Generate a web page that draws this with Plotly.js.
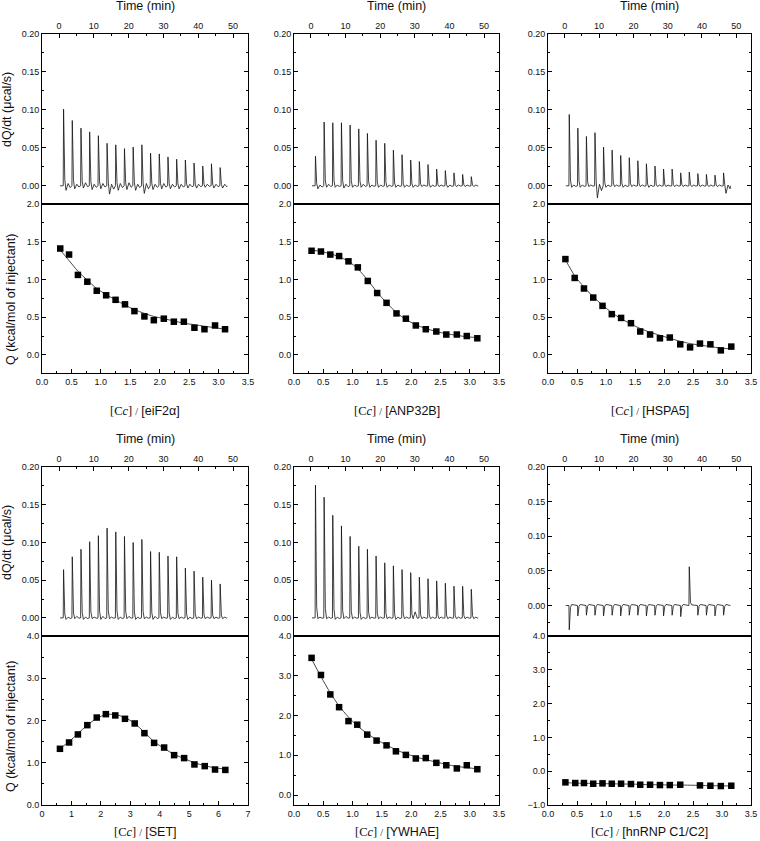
<!DOCTYPE html>
<html>
<head>
<meta charset="utf-8">
<script src="https://cdn.plot.ly/plotly-3.0.1.min.js"></script>
<style>html,body{margin:0;padding:0;background:#fff;}</style>
</head>
<body>
<div id="chart" style="width:760px;height:841px;"></div>
<script>
// ---------------- DATA ----------------
const panelNames = ['eiF2α', 'ANP32B', 'HSPA5', 'SET', 'YWHAE', 'hnRNP C1/C2'];

// injection times (min) of the raw thermograms
const injTimes = [1.2, 3.7, 6.2, 8.7, 11.2, 13.7, 16.2, 18.7, 21.2, 23.7, 26.2, 28.7, 31.2, 33.7, 36.2, 38.7, 41.2, 43.7, 46.2];
const runStart = 0.3, runEnd = 48.3;

// raw peak heights (µcal/s)
const peakEiF2a  = [0.101, 0.086, 0.076, 0.071, 0.066, 0.056, 0.054, 0.049, 0.051, 0.054, 0.043, 0.042, 0.038, 0.035, 0.034, 0.030, 0.026, 0.029, 0.024];
const peakANP32B = [0.039, 0.084, 0.083, 0.083, 0.080, 0.075, 0.069, 0.060, 0.056, 0.047, 0.041, 0.034, 0.032, 0.028, 0.022, 0.020, 0.017, 0.015, 0.012];
const peakHSPA5  = [0.094, 0.076, 0.065, 0.070, 0.051, 0.047, 0.040, 0.037, 0.033, 0.029, 0.026, 0.022, 0.022, 0.017, 0.018, 0.016, 0.015, 0.014, 0.017];
const peakSET    = [0.064, 0.081, 0.091, 0.101, 0.109, 0.119, 0.114, 0.108, 0.100, 0.104, 0.088, 0.087, 0.082, 0.081, 0.066, 0.062, 0.054, 0.050, 0.045];
const peakYWHAE  = [0.176, 0.160, 0.136, 0.122, 0.108, 0.095, 0.091, 0.082, 0.073, 0.069, 0.064, 0.060, 0.054, 0.052, 0.049, 0.046, 0.042, 0.042, 0.038];
const peakHNRNP  = [-0.035, -0.015, -0.014, -0.014, -0.015, -0.014, -0.015, -0.014, -0.014, -0.015, -0.014, -0.015, -0.014, -0.016, 0.056, -0.014, -0.014, -0.015, -0.014];

// baseline just after each peak, and mid-interval baseline (µcal/s)
const afterEiF2a  = [-0.006, -0.004, -0.003, -0.005, -0.004, -0.011, -0.006, -0.005, -0.006, -0.010, -0.005, -0.004, -0.004, -0.004, -0.003, -0.003, -0.002, -0.003, -0.003];
const midEiF2a    = [0.003, 0.002, 0.004, 0.002, 0.003, 0.002, 0.003, 0.004, 0.002, 0.003, 0.002, 0.003, 0.002, 0.002, 0.002, 0.002, 0.002, 0.002, 0.002];
const afterANP32B = [-0.004, -0.002, -0.002, -0.003, -0.002, -0.002, -0.002, -0.002, -0.002, -0.002, -0.002, -0.002, -0.001, -0.002, -0.001, -0.002, -0.001, -0.001, -0.001];
const midANP32B   = [0.001, 0.002, 0.001, 0.002, 0.001, 0.002, 0.001, 0.001, 0.001, 0.001, 0.001, 0.001, 0.001, 0.001, 0.001, 0.001, 0.001, 0.001, 0.001];
const afterHSPA5  = [-0.002, -0.002, -0.001, -0.016, -0.002, -0.001, -0.002, -0.001, -0.001, -0.002, -0.001, -0.001, -0.001, -0.001, -0.001, -0.001, -0.001, -0.001, -0.010];
const midHSPA5    = [0.001, 0.001, 0.001, 0.002, 0.001, 0.001, 0.001, 0.001, 0.001, 0.001, 0.001, 0.001, 0.001, 0.001, 0.001, 0.001, 0.001, 0.001, 0.001];
const afterSET    = [-0.002, -0.001, -0.002, -0.001, -0.002, -0.001, -0.002, -0.001, -0.002, -0.001, -0.002, -0.001, -0.002, -0.001, -0.002, -0.001, -0.001, -0.001, -0.001];
const midSET      = [0.001, 0.002, 0.001, 0.001, 0.002, 0.001, 0.001, 0.002, 0.001, 0.001, 0.002, 0.001, 0.001, 0.001, 0.001, 0.001, 0.001, 0.001, 0.001];
const afterYWHAE  = [-0.001, -0.001, -0.002, -0.001, -0.001, -0.002, -0.001, -0.001, -0.001, -0.002, -0.001, -0.001, -0.001, -0.001, -0.001, -0.001, -0.001, -0.001, -0.001];
const midYWHAE    = [0.001, 0.001, 0.001, 0.002, 0.001, 0.001, 0.001, 0.001, 0.001, 0.001, 0.001, 0.008, 0.001, 0.001, 0.001, 0.001, 0.001, 0.001, 0.001];
const afterHNRNP  = [0.0015, 0.0015, 0.0015, 0.0015, 0.0015, 0.0015, 0.0015, 0.0015, 0.0015, 0.0015, 0.0015, 0.0015, 0.0015, 0.0015, 0.001, 0.0015, 0.0015, 0.0015, 0.0015];
const midHNRNP    = [0.001, 0.001, 0.001, 0.001, 0.001, 0.001, 0.001, 0.001, 0.001, 0.001, 0.001, 0.001, 0.001, 0.001, 0.001, 0.001, 0.001, 0.001, 0.001];

// integrated heats: molar ratio, Q (kcal/mol of injectant), fitted Q
const ratioEiF2a = [0.31, 0.46, 0.61, 0.77, 0.93, 1.09, 1.25, 1.41, 1.57, 1.74, 1.90, 2.07, 2.24, 2.41, 2.59, 2.76, 2.94, 3.11];
const qEiF2a     = [1.41, 1.33, 1.06, 0.97, 0.85, 0.79, 0.73, 0.67, 0.58, 0.51, 0.46, 0.48, 0.44, 0.44, 0.36, 0.34, 0.39, 0.34];
const fitEiF2a   = [1.39, 1.25, 1.11, 0.99, 0.88, 0.80, 0.73, 0.66, 0.60, 0.55, 0.51, 0.48, 0.45, 0.42, 0.40, 0.38, 0.36, 0.34];

const ratioANP32B = [0.30, 0.46, 0.62, 0.77, 0.93, 1.09, 1.26, 1.42, 1.58, 1.75, 1.91, 2.08, 2.25, 2.43, 2.60, 2.78, 2.95, 3.13];
const qANP32B     = [1.38, 1.37, 1.33, 1.31, 1.24, 1.16, 0.98, 0.82, 0.69, 0.55, 0.48, 0.39, 0.34, 0.31, 0.27, 0.27, 0.25, 0.22];
const fitANP32B   = [1.39, 1.37, 1.34, 1.30, 1.24, 1.14, 0.99, 0.83, 0.69, 0.56, 0.47, 0.40, 0.35, 0.31, 0.28, 0.26, 0.24, 0.23];

const ratioHSPA5 = [0.30, 0.46, 0.62, 0.78, 0.94, 1.10, 1.26, 1.43, 1.59, 1.76, 1.93, 2.10, 2.28, 2.45, 2.62, 2.80, 2.98, 3.16];
const qHSPA5     = [1.27, 1.02, 0.88, 0.76, 0.65, 0.54, 0.49, 0.42, 0.31, 0.27, 0.22, 0.23, 0.14, 0.10, 0.15, 0.14, 0.06, 0.11];
const fitHSPA5   = [1.26, 1.05, 0.90, 0.77, 0.66, 0.56, 0.48, 0.41, 0.35, 0.30, 0.26, 0.22, 0.18, 0.15, 0.13, 0.11, 0.09, 0.08];

const ratioSET = [0.61, 0.92, 1.22, 1.54, 1.86, 2.17, 2.49, 2.82, 3.15, 3.48, 3.81, 4.15, 4.49, 4.83, 5.18, 5.53, 5.88, 6.23];
const qSET     = [1.33, 1.48, 1.67, 1.89, 2.07, 2.15, 2.12, 2.04, 1.93, 1.70, 1.47, 1.36, 1.18, 1.11, 0.96, 0.92, 0.84, 0.83];
const fitSET   = [1.34, 1.50, 1.69, 1.89, 2.05, 2.14, 2.14, 2.07, 1.93, 1.72, 1.50, 1.34, 1.20, 1.10, 1.00, 0.93, 0.88, 0.85];

const ratioYWHAE = [0.30, 0.46, 0.62, 0.77, 0.93, 1.08, 1.25, 1.41, 1.58, 1.74, 1.91, 2.08, 2.25, 2.43, 2.60, 2.78, 2.95, 3.13];
const qYWHAE     = [3.45, 3.02, 2.53, 2.21, 1.86, 1.77, 1.52, 1.37, 1.25, 1.10, 1.01, 0.92, 0.93, 0.81, 0.75, 0.67, 0.75, 0.65];
const fitYWHAE   = [3.42, 2.98, 2.57, 2.24, 1.96, 1.74, 1.55, 1.39, 1.26, 1.14, 1.04, 0.96, 0.89, 0.83, 0.77, 0.72, 0.69, 0.66];

const ratioHNRNP = [0.30, 0.47, 0.62, 0.78, 0.94, 1.10, 1.26, 1.43, 1.59, 1.76, 1.93, 2.10, 2.28, 2.62, 2.80, 2.98, 3.16];
const qHNRNP     = [-0.33, -0.35, -0.35, -0.37, -0.36, -0.37, -0.37, -0.38, -0.40, -0.40, -0.41, -0.41, -0.40, -0.42, -0.43, -0.44, -0.43];
const fitHNRNP   = [-0.34, -0.35, -0.36, -0.36, -0.37, -0.37, -0.38, -0.38, -0.39, -0.40, -0.40, -0.41, -0.41, -0.42, -0.43, -0.43, -0.44];

// ---------------- PANEL SET-UP ----------------
const W = 760, H = 841;
const panels = [
  {peak: peakEiF2a,  after: afterEiF2a,  mid: midEiF2a,  r: ratioEiF2a,  q: qEiF2a,  fit: fitEiF2a,
   px: [42, 248], up: [34, 204], lo: [204, 373], yUp: [-0.024, 0.2], yLo: [-0.24, 2.0], yLoD: 0.5, xLo: [0, 3.5], xLoD: 0.5, xFmt: '.1f', col: 0, row: 0},
  {peak: peakANP32B, after: afterANP32B, mid: midANP32B, r: ratioANP32B, q: qANP32B, fit: fitANP32B,
   px: [294, 499], up: [34, 204], lo: [204, 373], yUp: [-0.024, 0.2], yLo: [-0.24, 2.0], yLoD: 0.5, xLo: [0, 3.5], xLoD: 0.5, xFmt: '.1f', col: 1, row: 0},
  {peak: peakHSPA5,  after: afterHSPA5,  mid: midHSPA5,  r: ratioHSPA5,  q: qHSPA5,  fit: fitHSPA5,
   px: [548, 751], up: [34, 204], lo: [204, 373], yUp: [-0.024, 0.2], yLo: [-0.24, 2.0], yLoD: 0.5, xLo: [0, 3.5], xLoD: 0.5, xFmt: '.1f', col: 2, row: 0},
  {peak: peakSET,    after: afterSET,    mid: midSET,    r: ratioSET,    q: qSET,    fit: fitSET,
   px: [42, 248], up: [467, 636], lo: [636, 805], yUp: [-0.024, 0.2], yLo: [0, 4.0], yLoD: 1, xLo: [0, 7], xLoD: 1, xFmt: 'd', col: 0, row: 1},
  {peak: peakYWHAE,  after: afterYWHAE,  mid: midYWHAE,  r: ratioYWHAE,  q: qYWHAE,  fit: fitYWHAE,
   px: [294, 499], up: [467, 636], lo: [636, 805], yUp: [-0.024, 0.2], yLo: [-0.25, 4.0], yLoD: 1, xLo: [0, 3.5], xLoD: 0.5, xFmt: '.1f', col: 1, row: 1},
  {peak: peakHNRNP,  after: afterHNRNP,  mid: midHNRNP,  r: ratioHNRNP,  q: qHNRNP,  fit: fitHNRNP,
   px: [548, 751], up: [467, 636], lo: [636, 805], yUp: [-0.044, 0.2], yLo: [-1.0, 4.0], yLoD: 1, xLo: [0, 3.5], xLoD: 0.5, xFmt: '.1f', col: 2, row: 1}
];

const FONT = 'Liberation Sans, Arial, Helvetica, sans-serif';
const SERIF = "'Liberation Serif', 'Times New Roman', serif";
const px2x = p => p / W;
const px2y = p => 1 - p / H;

function thermogram(peaks, after, mid) {
  const t = [runStart], y = [0];
  injTimes.forEach((t0, i) => {
    t.push(t0, t0 + 0.1, t0 + 0.22, t0 + 0.45, t0 + 0.8, t0 + 1.4, t0 + 2.0);
    y.push(0, peaks[i], 0.35 * peaks[i], 0.08 * peaks[i], after[i], mid[i], 0.4 * after[i]);
  });
  t.push(runEnd); y.push(0);
  return {t, y};
}

const axBase = {
  showline: true, linecolor: '#000', linewidth: 1,
  ticks: 'inside', ticklen: 4, tickwidth: 1, tickcolor: '#000',
  showgrid: false, zeroline: false, fixedrange: true,
  tickfont: {family: FONT, size: 9, color: '#111'}
};
const minorTicks = d => ({dtick: d, tick0: 0, ticks: 'inside', ticklen: 2, tickwidth: 1, tickcolor: '#000', showgrid: false});

const traces = [];
const layout = {
  width: W, height: H,
  margin: {l: 0, r: 0, t: 0, b: 0},
  paper_bgcolor: '#fff', plot_bgcolor: '#fff',
  showlegend: false,
  font: {family: FONT, color: '#111'},
  annotations: []
};

panels.forEach((p, k) => {
  const nu = 2 * k + 1, nl = 2 * k + 2;
  const id = n => (n === 1 ? '' : String(n));
  const dom = [px2x(p.px[0]), px2x(p.px[1])];

  // upper: raw thermogram
  layout['xaxis' + id(nu)] = Object.assign({}, axBase, {
    domain: dom, anchor: 'y' + id(nu), side: 'top', range: [-4.9, 54.3],
    tick0: 0, dtick: 10, minor: minorTicks(5), mirror: true
  });
  layout['yaxis' + id(nu)] = Object.assign({}, axBase, {
    domain: [px2y(p.up[1]), px2y(p.up[0])], anchor: 'x' + id(nu), range: p.yUp,
    tick0: 0, dtick: 0.05, tickformat: '.2f', minor: minorTicks(0.025), mirror: 'ticks'
  });
  // lower: integrated heats
  layout['xaxis' + id(nl)] = Object.assign({}, axBase, {
    domain: dom, anchor: 'y' + id(nl), side: 'bottom', range: p.xLo,
    tick0: 0, dtick: p.xLoD, tickformat: p.xFmt, minor: minorTicks(p.xLoD / 2), mirror: true
  });
  layout['yaxis' + id(nl)] = Object.assign({}, axBase, {
    domain: [px2y(p.lo[1]), px2y(p.lo[0])], anchor: 'x' + id(nl), range: p.yLo,
    tick0: 0, dtick: p.yLoD, tickformat: '.1f', minor: minorTicks(p.yLoD / 2), mirror: 'ticks'
  });

  const th = thermogram(p.peak, p.after, p.mid);
  traces.push({
    type: 'scatter', mode: 'lines', x: th.t, y: th.y,
    xaxis: 'x' + id(nu), yaxis: 'y' + id(nu),
    line: {color: '#111', width: 0.8}, hoverinfo: 'skip'
  });
  traces.push({
    type: 'scatter', mode: 'lines', x: p.r, y: p.fit,
    xaxis: 'x' + id(nl), yaxis: 'y' + id(nl),
    line: {color: '#333', width: 0.9, shape: 'spline', smoothing: 0.8}, hoverinfo: 'skip'
  });
  traces.push({
    type: 'scatter', mode: 'markers', x: p.r, y: p.q,
    xaxis: 'x' + id(nl), yaxis: 'y' + id(nl),
    marker: {symbol: 'square', size: 6.5, color: '#000'}
  });

  const cx = px2x((p.px[0] + p.px[1]) / 2);
  layout.annotations.push({
    xref: 'paper', yref: 'paper', x: cx, y: px2y(p.row === 0 ? 6 : 439),
    xanchor: 'center', yanchor: 'middle', showarrow: false,
    text: 'Time (min)', font: {family: FONT, size: 12.5, color: '#111'}
  });
  layout.annotations.push({
    xref: 'paper', yref: 'paper', x: cx, y: px2y(p.row === 0 ? 411 : 832),
    xanchor: 'center', yanchor: 'middle', showarrow: false,
    text: '<span style="font-family:' + SERIF + '">[C<i>c</i>] <span style="font-size:10px">/</span> </span>[' + panelNames[k] + ']',
    font: {family: FONT, size: 12.5, color: '#111'}
  });
  if (p.col === 0) {
    layout.annotations.push({
      xref: 'paper', yref: 'paper', x: px2x(7), y: px2y(p.row === 0 ? 110 : 543),
      xanchor: 'center', yanchor: 'middle', showarrow: false, textangle: -90,
      text: 'dQ/dt (μcal/s)', font: {family: FONT, size: 12.5, color: '#111'}
    });
    layout.annotations.push({
      xref: 'paper', yref: 'paper', x: px2x(11), y: px2y(p.row === 0 ? 300 : 727),
      xanchor: 'center', yanchor: 'middle', showarrow: false, textangle: -90,
      text: 'Q (kcal/mol of injectant)', font: {family: FONT, size: 12.5, color: '#111'}
    });
  }
});

Plotly.newPlot('chart', traces, layout, {staticPlot: true, displayModeBar: false});
</script>
</body>
</html>
